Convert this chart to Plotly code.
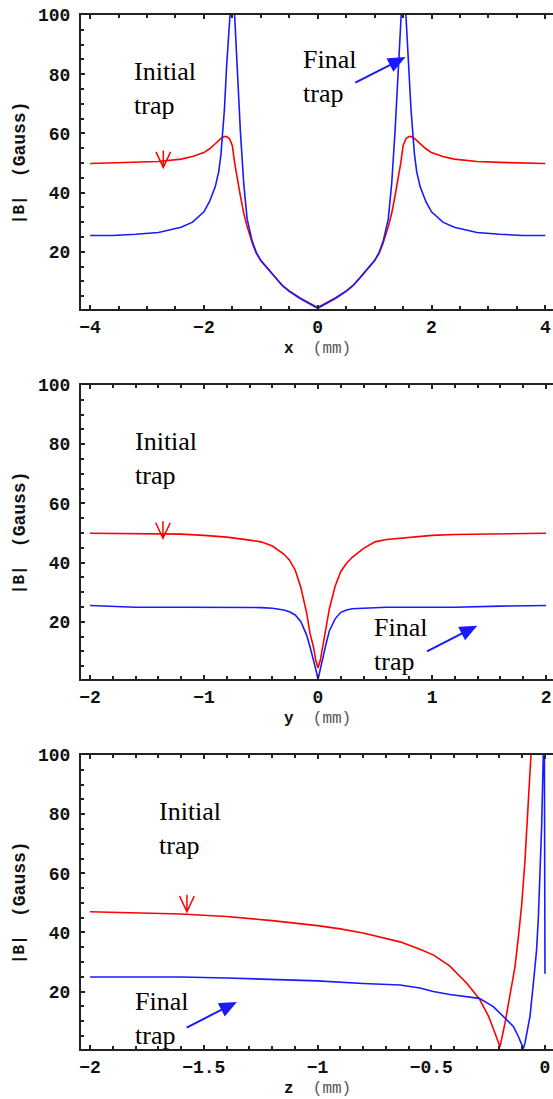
import plotly.graph_objects as go

# ---------------- data ----------------
# Panel 1 : |B| along x
x_pos = [-4.0, -3.6, -3.2, -2.8, -2.4, -2.2, -2.0, -1.9, -1.8, -1.74, -1.7, -1.64, -1.6, -1.55,
         -1.5, -1.46, -1.43, -1.36, -1.3, -1.24, -1.15, -1.08, -1.0, -0.87, -0.75, -0.62, -0.5,
         -0.31, -0.15, 0.0, 0.15, 0.31, 0.5, 0.62, 0.75, 0.87, 1.0, 1.08, 1.15, 1.24, 1.3, 1.36,
         1.43, 1.46, 1.5, 1.55, 1.6, 1.64, 1.7, 1.74, 1.8, 1.9, 2.0, 2.2, 2.4, 2.8, 3.2, 3.6, 4.0]
x_initial = [49.8, 50.0, 50.2, 50.5, 51.3, 52.2, 53.5, 54.8, 56.5, 57.6, 58.3, 58.9, 58.9, 58.2,
             55.8, 50.0, 46.5, 39.0, 33.0, 28.5, 23.0, 19.5, 17.0, 14.0, 11.5, 8.6, 6.8,
             4.4, 2.7, 1.2, 2.7, 4.4, 6.8, 8.6, 11.5, 14.0, 17.0, 19.5, 23.0, 28.5, 33.0, 39.0,
             46.5, 50.0, 55.8, 58.2, 58.9, 58.9, 58.3, 57.6, 56.5, 54.8, 53.5, 52.2, 51.3, 50.5,
             50.2, 50.0, 49.8]
x_final = [25.5, 25.5, 25.9, 26.5, 28.3, 30.0, 33.5, 37.0, 42.0, 47.0, 53.0, 68.0, 83.0, 100.0,
           112.0, 100.0, 88.0, 61.0, 43.0, 31.0, 23.5, 19.8, 17.0, 14.0, 11.3, 8.5, 6.6,
           4.2, 2.5, 0.9, 2.5, 4.2, 6.6, 8.5, 11.3, 14.0, 17.0, 19.8, 23.5, 31.0, 43.0, 61.0,
           88.0, 100.0, 112.0, 100.0, 83.0, 68.0, 53.0, 47.0, 42.0, 37.0, 33.5, 30.0, 28.3, 26.5,
           25.9, 25.5, 25.5]

# Panel 2 : |B| along y
y_pos = [-2.0, -1.6, -1.2, -1.0, -0.8, -0.6, -0.5, -0.4, -0.3, -0.25, -0.2, -0.15, -0.1, -0.07,
         -0.04, -0.02, 0.0, 0.02, 0.04, 0.07, 0.1, 0.15, 0.2, 0.25, 0.3, 0.4, 0.5, 0.6, 0.8,
         1.0, 1.2, 1.6, 2.0]
y_initial = [49.9, 49.8, 49.6, 49.2, 48.6, 47.6, 47.0, 45.6, 42.9, 40.8, 37.5, 31.5, 23.0, 16.0,
             11.5, 7.0, 4.5, 7.0, 11.5, 18.0, 24.5, 32.0, 37.0, 39.8, 41.8, 44.8, 47.0, 47.8, 48.6,
             49.2, 49.5, 49.8, 49.9]
y_final = [25.5, 24.9, 24.9, 24.9, 24.9, 24.8, 24.8, 24.6, 24.0, 23.4, 22.3, 20.0, 15.5, 11.5,
           7.5, 4.0, 0.6, 4.0, 8.0, 12.5, 17.0, 21.0, 23.2, 24.0, 24.4, 24.6, 24.9, 24.9, 24.9,
           24.9, 24.9, 25.3, 25.5]

# Panel 3 : |B| along z
z_pos_initial = [-2.0, -1.8, -1.6, -1.4, -1.2, -1.0, -0.9, -0.8, -0.7, -0.637, -0.55, -0.491,
                 -0.418, -0.344, -0.289, -0.249, -0.22, -0.198, -0.176, -0.154, -0.132, -0.117,
                 -0.102, -0.088, -0.076, -0.066, -0.058]
z_initial = [47.0, 46.7, 46.2, 45.4, 44.0, 42.3, 41.2, 39.8, 38.0, 36.8, 34.3, 32.4,
             28.6, 22.8, 17.6, 11.8, 6.0, 1.3, 9.2, 18.2, 28.3, 38.4,
             49.7, 64.3, 78.9, 93.6, 105.0]
z_pos_final = [-2.0, -1.6, -1.4, -1.2, -1.0, -0.8, -0.637, -0.55, -0.491, -0.418, -0.344, -0.289,
               -0.227, -0.171, -0.139, -0.117, -0.095, -0.088, -0.066, -0.051, -0.037, -0.029,
               -0.022, -0.0145, -0.0075, -0.004, 0.0]
z_final = [24.9, 24.9, 24.6, 24.2, 23.6, 22.7, 22.2, 21.2, 20.0, 19.0, 18.3, 17.7,
           14.9, 10.6, 8.2, 4.8, 0.7, 2.6, 11.6, 22.8, 34.1, 45.3,
           60.0, 76.3, 100.0, 140.0, 26.0]

y_ticks = [20, 40, 60, 80, 100]
x_labels = ["x", "y", "z"]
y_label_parts = ["|B|", "(Gauss)"]

# ---------------- styling ----------------
RED = "#ff0000"
BLUE = "#1a1aff"
FRAME = "#222222"
MONO = "Liberation Mono"
SERIF = "Liberation Serif"

y_domains = [[0.7154, 1.0], [0.3575, 0.6422], [0.0, 0.2843]]
x_ranges = [[-4.16, 4.135], [-2.079, 2.061], [-2.0396, 0.0352]]
x_major = [2, 1, 0.5]
x_minor = [0.5, 0.2, 0.1]
x_tick0 = [-4, -2, -2]
y_range = [0.56, 100]

fig = go.Figure()

series = [
    (x_pos, x_initial, x_pos, x_final),
    (y_pos, y_initial, y_pos, y_final),
    (z_pos_initial, z_initial, z_pos_final, z_final),
]
for i, (xa, ya, xb, yb) in enumerate(series):
    sx = "x" if i == 0 else f"x{i+1}"
    sy = "y" if i == 0 else f"y{i+1}"
    fig.add_trace(go.Scatter(x=xa, y=ya, mode="lines", line=dict(color=RED, width=1.6),
                             xaxis=sx, yaxis=sy, showlegend=False, hoverinfo="skip"))
    fig.add_trace(go.Scatter(x=xb, y=yb, mode="lines", line=dict(color=BLUE, width=1.6),
                             xaxis=sx, yaxis=sy, showlegend=False, hoverinfo="skip"))

layout = dict(
    width=553, height=1099,
    margin=dict(l=81, r=0, t=15, b=50),
    paper_bgcolor="white", plot_bgcolor="white",
    showlegend=False,
)
tickfont = dict(family=MONO, size=18, color="#111", weight="bold")
for i in range(3):
    xk = "xaxis" if i == 0 else f"xaxis{i+1}"
    yk = "yaxis" if i == 0 else f"yaxis{i+1}"
    anchor_y = "y" if i == 0 else f"y{i+1}"
    anchor_x = "x" if i == 0 else f"x{i+1}"
    layout[xk] = dict(
        domain=[0, 1], anchor=anchor_y, range=x_ranges[i],
        tickmode="linear", tick0=x_tick0[i], dtick=x_major[i],
        ticks="inside", ticklen=4, tickwidth=1.5, tickcolor=FRAME,
        minor=dict(dtick=x_minor[i], tick0=x_tick0[i], ticks="inside", ticklen=3,
                   tickwidth=1.5, tickcolor=FRAME),
        showline=True, linecolor=FRAME, linewidth=2.2, mirror="ticks",
        showgrid=False, zeroline=False, tickfont=tickfont, ticklabelstandoff=0,
    )
    layout[yk] = dict(
        domain=y_domains[i], anchor=anchor_x, range=y_range,
        tickmode="array", tickvals=y_ticks,
        ticks="inside", ticklen=4, tickwidth=1.5, tickcolor=FRAME,
        minor=dict(dtick=5, tick0=0, ticks="inside", ticklen=3, tickwidth=1.5, tickcolor=FRAME),
        showline=True, linecolor=FRAME, linewidth=2.2, mirror=False,
        showgrid=False, zeroline=False, tickfont=tickfont, ticklabelstandoff=5,
    )
    # right-hand frame ticks (frame line itself lies just outside the picture)
    layout[f"yaxis{i+4}"] = dict(
        overlaying=anchor_y, side="right", anchor=anchor_x, range=y_range,
        tickmode="array", tickvals=y_ticks[:-1], ticks="inside", ticklen=2,
        tickwidth=1.5, tickcolor=FRAME, showticklabels=False, showline=False,
        showgrid=False, zeroline=False,
    )
fig.update_layout(**layout)

# axis titles
for i in range(3):
    xr = "x domain" if i == 0 else f"x{i+1} domain"
    yr = "y domain" if i == 0 else f"y{i+1} domain"
    fig.add_annotation(
        text=f"<b>{x_labels[i]}</b>  <span style='color:#555'>(mm)</span>",
        xref=xr, yref=yr, x=0.5, y=0, xanchor="center", yanchor="middle", yshift=-40,
        showarrow=False, font=dict(family=MONO, size=16, color="#111"))
    # y title drawn in two pieces: "|B|" below, "(Gauss)" above
    fig.add_annotation(
        text=f"<b>{y_label_parts[0]}</b>", textangle=-90,
        xref=xr, yref=yr, x=0, y=0.5, xanchor="center", yanchor="middle",
        xshift=-61, yshift=-48,
        showarrow=False, font=dict(family=MONO, size=16, color="#111"))
    fig.add_annotation(
        text=f"<b>{y_label_parts[1]}</b>", textangle=-90,
        xref=xr, yref=yr, x=0, y=0.5, xanchor="center", yanchor="middle",
        xshift=-61, yshift=23,
        showarrow=False, font=dict(family=MONO, size=18, color="#111"))

# text labels
texts = [
    ("x", "y", -3.211, 75.0, "Initial<br>trap"),
    ("x", "y", -0.241, 79.3, "Final<br>trap"),
    ("x2", "y2", -1.598, 75.0, "Initial<br>trap"),
    ("x2", "y2", 0.5, 12.35, "Final<br>trap"),
    ("x3", "y3", -1.692, 75.2, "Initial<br>trap"),
    ("x3", "y3", -1.799, 11.0, "Final<br>trap"),
]
for xr, yr, xx, yy, t in texts:
    fig.add_annotation(text=t, xref=xr, yref=yr, x=xx, y=yy, xanchor="left", yanchor="middle",
                       align="left", showarrow=False, xshift=-3,
                       font=dict(family=SERIF, size=26, color="black"))

# red open arrows (tip anchored on the initial-trap curve)
red_tips = [("x", "y", -2.714, 48.5), ("x2", "y2", -1.36, 48.2), ("x3", "y3", -1.574, 47.0)]
v_path = "M0,0 L0,17 M-7.3,15.6 L0,0 L7.3,15.6"
for xr, yr, xx, yy in red_tips:
    fig.add_shape(type="path", xref=xr, yref=yr, xsizemode="pixel", ysizemode="pixel",
                  xanchor=xx, yanchor=yy, path=v_path, line=dict(color=RED, width=1.5))

# blue filled arrows (tip position given)
blue_tips = [("x", "y", 1.504, 85.4), ("x2", "y2", 1.377, 18.3), ("x3", "y3", -1.364, 16.1)]
tail = (-48.0, -24.5)
L, W = 14.0, 6.0
norm = (tail[0] ** 2 + tail[1] ** 2) ** 0.5
ux, uy = -tail[0] / norm, -tail[1] / norm
bx, by = -L * ux, -L * uy
px_, py_ = -uy, ux
c1 = (bx + W * px_, by + W * py_)
c2 = (bx - W * px_, by - W * py_)
b_path = (f"M{tail[0]:.2f},{tail[1]:.2f} L{bx:.2f},{by:.2f} "
          f"M{c1[0]:.2f},{c1[1]:.2f} L0,0 L{c2[0]:.2f},{c2[1]:.2f} Z")
for xr, yr, xx, yy in blue_tips:
    fig.add_shape(type="path", xref=xr, yref=yr, xsizemode="pixel", ysizemode="pixel",
                  xanchor=xx, yanchor=yy, path=b_path, fillcolor=BLUE,
                  line=dict(color=BLUE, width=2))

fig.write_html("out.html", config={"displayModeBar": False},
               post_script="document.body.style.margin='0';document.body.style.overflow='hidden';")
